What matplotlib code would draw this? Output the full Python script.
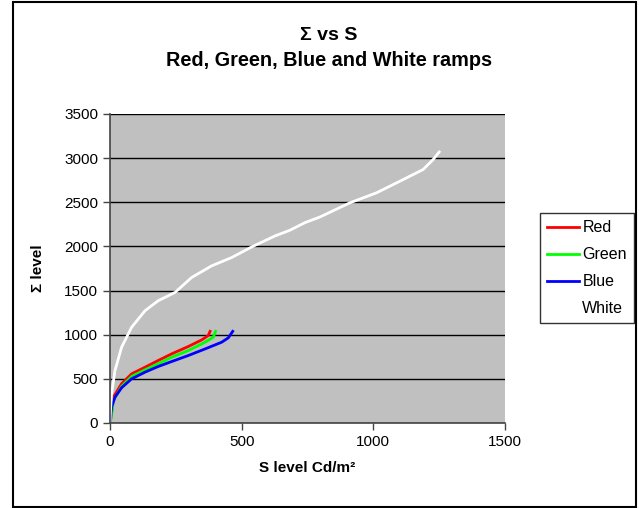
import matplotlib.pyplot as plt
from matplotlib.patches import Rectangle

plt.rcParams['font.family'] = ['Liberation Sans', 'DejaVu Sans']

# S level (Cd/m2) and Sigma level
red_x = [0, 4, 13, 44, 82, 133, 183, 234, 297, 348, 373, 380]
red_y = [0, 68, 293, 445, 557, 632, 708, 783, 866, 941, 990, 1038]

green_x = [0, 4, 13, 44, 82, 133, 183, 234, 297, 361, 392, 401]
green_y = [0, 60, 255, 414, 527, 602, 670, 745, 820, 915, 971, 1038]

blue_x = [0, 6, 19, 44, 82, 133, 183, 234, 297, 361, 424, 449, 466]
blue_y = [0, 180, 293, 399, 500, 576, 640, 696, 764, 839, 915, 964, 1038]

white_x = [0, 2, 6, 19, 44, 82, 133, 183, 247, 310, 386, 462, 538, 626, 683,
           740, 797, 911, 1012, 1101, 1189, 1227, 1250]
white_y = [0, 150, 331, 595, 858, 1084, 1272, 1385, 1479, 1648, 1780, 1874,
           1994, 2118, 2183, 2269, 2333, 2494, 2607, 2739, 2871, 2984, 3070]

fig = plt.figure(figsize=(6.39, 5.08), dpi=100)
ax = fig.add_axes([110/639, 1 - 423/508, 395/639, 309/508])
ax.set_facecolor('#c0c0c0')

ax.plot(red_x, red_y, color='#ff0000', lw=2, label='Red')
ax.plot(green_x, green_y, color='#00ff00', lw=2, label='Green')
ax.plot(blue_x, blue_y, color='#0000ff', lw=2, label='Blue')
ax.plot(white_x, white_y, color='white', lw=2, label='White')

ax.set_xlim(0, 1500)
ax.set_ylim(0, 3500)
ax.set_xticks([0, 500, 1000, 1500])
ax.set_yticks(range(0, 3501, 500))
ax.yaxis.grid(True, color='black', lw=1)
ax.set_axisbelow(True)
for s in ['top', 'right']:
    ax.spines[s].set_visible(False)
for s in ['left', 'bottom']:
    ax.spines[s].set_color('#444444')
    ax.spines[s].set_linewidth(1.2)
ax.tick_params(direction='out', length=5, width=1, colors='#444444',
               labelcolor='black', labelsize=11)

ax.set_xlabel('S level Cd/m²', fontsize=11, fontweight='bold', labelpad=9)
ax.set_ylabel('Σ level', fontsize=11, fontweight='bold', labelpad=14)

fig.text(0.515, 1 - 35/508, 'Σ vs S', ha='center', va='center',
         fontsize=14, fontweight='bold')
fig.text(0.515, 1 - 60/508, 'Red, Green, Blue and White ramps', ha='center',
         va='center', fontsize=14.3, fontweight='bold')

leg = ax.legend(loc='upper left', bbox_to_anchor=(540/639, 1 - 213/508),
                bbox_transform=fig.transFigure, frameon=True, fancybox=False,
                edgecolor='black', fontsize=11.5, handlelength=2.0,
                borderpad=0.45, labelspacing=0.75, handletextpad=0.2,
                borderaxespad=0)
leg.get_frame().set_linewidth(1)

fig.patches.append(Rectangle((12.5/639, 1/508), 623/639, 505/508,
                             transform=fig.transFigure, fill=False,
                             edgecolor='black', lw=1.5))

fig.savefig('out.png', dpi=100)
